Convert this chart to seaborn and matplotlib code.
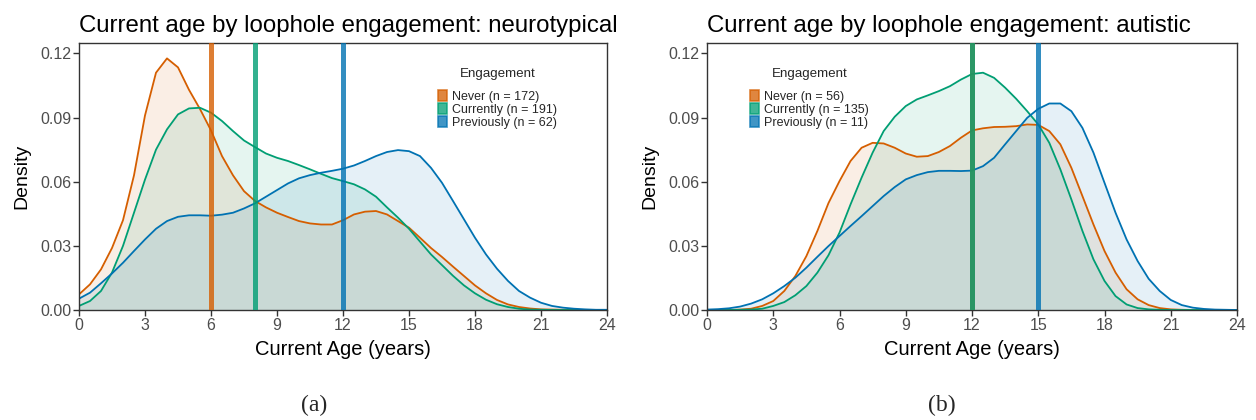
import numpy as np
import pandas as pd
import seaborn as sns
import matplotlib
matplotlib.use("Agg")
import matplotlib.pyplot as plt
from matplotlib.patches import Patch

# ---------------- data ----------------
age = [i * 0.5 for i in range(49)]  # 0 .. 24 years, 0.5 step grid

groups = ["Never", "Currently", "Previously"]
colors = ["#D55E00", "#009E73", "#0072B2"]

# Neurotypical panel densities
nt_never = [0.0073, 0.012, 0.019, 0.029, 0.042, 0.063, 0.091, 0.111, 0.1177, 0.1135,
            0.103, 0.094, 0.084, 0.072, 0.063, 0.0556, 0.051, 0.048, 0.0455, 0.0435,
            0.0416, 0.0405, 0.040, 0.040, 0.042, 0.0447, 0.046, 0.0463, 0.0447, 0.0416,
            0.0385, 0.0338, 0.029, 0.0248, 0.0203, 0.0159, 0.0115, 0.0078, 0.0047, 0.0026,
            0.0014, 0.0007, 0.0003, 0.0002, 0.0001, 0.0001, 0.0, 0.0, 0.0]
nt_curr = [0.0019, 0.0042, 0.0089, 0.0175, 0.030, 0.0455, 0.061, 0.075, 0.0845, 0.0915,
           0.0943, 0.0946, 0.0923, 0.0884, 0.0837, 0.0793, 0.0762, 0.0732, 0.0712, 0.0697,
           0.0678, 0.0658, 0.0637, 0.0617, 0.0603, 0.0588, 0.0564, 0.053, 0.048, 0.0432,
           0.038, 0.032, 0.026, 0.021, 0.016, 0.0115, 0.0078, 0.0048, 0.0027, 0.0014,
           0.0006, 0.0002, 0.0001, 0.0, 0.0, 0.0, 0.0, 0.0, 0.0]
nt_prev = [0.0053, 0.0081, 0.0125, 0.0171, 0.0221, 0.0276, 0.033, 0.038, 0.0416, 0.0436,
           0.0443, 0.0443, 0.0441, 0.0446, 0.0455, 0.0475, 0.0499, 0.053, 0.0561, 0.0592,
           0.0616, 0.0631, 0.0642, 0.0651, 0.0661, 0.0676, 0.0697, 0.072, 0.0739, 0.0748,
           0.0743, 0.072, 0.0665, 0.0595, 0.051, 0.0424, 0.0338, 0.026, 0.0193, 0.0136,
           0.0089, 0.0058, 0.0034, 0.0019, 0.0011, 0.0006, 0.0003, 0.0001, 0.0001]

# Autistic panel densities
au_never = [0.0, 0.0, 0.0, 0.0002, 0.0006, 0.0019, 0.0042, 0.0089, 0.0159, 0.0252,
            0.037, 0.050, 0.0603, 0.0697, 0.0759, 0.0782, 0.0779, 0.0759, 0.0732, 0.0717,
            0.072, 0.0739, 0.0767, 0.0806, 0.0840, 0.085, 0.0856, 0.0857, 0.086, 0.0868,
            0.0866, 0.0837, 0.0775, 0.0665, 0.0533, 0.040, 0.0276, 0.0175, 0.0097, 0.005,
            0.0023, 0.0009, 0.0003, 0.0001, 0.0, 0.0, 0.0, 0.0, 0.0]
au_curr = [0.0, 0.0, 0.0, 0.0001, 0.0002, 0.0006, 0.0019, 0.0037, 0.0069, 0.0112,
           0.0175, 0.0256, 0.0362, 0.0494, 0.0619, 0.0736, 0.0837, 0.0904, 0.0954, 0.0985,
           0.1004, 0.1024, 0.1047, 0.1078, 0.1104, 0.111, 0.1086, 0.104, 0.0988, 0.093,
           0.0868, 0.0782, 0.0658, 0.0517, 0.037, 0.0237, 0.0136, 0.0065, 0.0026, 0.0009,
           0.0003, 0.0001, 0.0, 0.0, 0.0, 0.0, 0.0, 0.0, 0.0]
au_prev = [0.0002, 0.0004, 0.0008, 0.0016, 0.003, 0.005, 0.0078, 0.0112, 0.0151, 0.0198,
           0.0249, 0.0299, 0.0346, 0.0393, 0.0439, 0.0486, 0.0533, 0.0575, 0.0611, 0.0631,
           0.0645, 0.0651, 0.0651, 0.065, 0.0652, 0.0673, 0.0712, 0.0775, 0.0837, 0.0899,
           0.0941, 0.0966, 0.0966, 0.093, 0.0852, 0.0736, 0.0595, 0.0455, 0.033, 0.0229,
           0.0146, 0.0089, 0.0047, 0.0023, 0.0011, 0.0005, 0.0002, 0.0001, 0.0]

# medians (vertical lines)
nt_medians = [6, 8, 12]
au_medians = [12, 12, 15]

nt_counts = [172, 191, 62]
au_counts = [56, 135, 11]

titles = ["Current age by loophole engagement: neurotypical",
          "Current age by loophole engagement: autistic"]
captions = ["(a)", "(b)"]
xticks = [0, 3, 6, 9, 12, 15, 18, 21, 24]
yticks = [0.00, 0.03, 0.06, 0.09, 0.12]

# ---------------- plotting ----------------
sns.set_theme(style="white")
plt.rcParams["font.family"] = ["Liberation Sans", "DejaVu Sans"]

fig = plt.figure(figsize=(12.56, 4.2), dpi=100)
ax1 = fig.add_axes([79 / 1256, 110 / 420, 528 / 1256, 267 / 420])
ax2 = fig.add_axes([707 / 1256, 110 / 420, 530 / 1256, 267 / 420])

panels = [
    (ax1, [nt_never, nt_curr, nt_prev], nt_medians, nt_counts, (0.68, 0.905)),
    (ax2, [au_never, au_curr, au_prev], au_medians, au_counts, (0.081, 0.905)),
]

for i, (ax, dens, meds, counts, lpos) in enumerate(panels):
    labels = [f"{g} (n = {n})" for g, n in zip(groups, counts)]
    df = pd.DataFrame({
        "age": np.concatenate([age] * 3),
        "density": np.concatenate(dens),
        "Engagement": np.repeat(labels, len(age)),
    })
    for lab, col in zip(labels, colors):
        sub = df[df["Engagement"] == lab]
        ax.fill_between(sub["age"], sub["density"], color=col, alpha=0.1, lw=0, zorder=1)
    sns.lineplot(data=df, x="age", y="density", hue="Engagement",
                 palette=dict(zip(labels, colors)), estimator=None, sort=False,
                 linewidth=1.3, legend=False, ax=ax, zorder=2)
    for m, col in zip(meds, colors):
        ax.axvline(m, color=col, alpha=0.8, lw=3.6, zorder=3)

    ax.set_xlim(0, 24)
    ax.set_ylim(0, 0.1249)
    ax.set_xticks(xticks)
    ax.set_yticks(yticks)
    ax.set_xticklabels([str(t) for t in xticks])
    ax.set_yticklabels([f"{t:.2f}" for t in yticks])
    ax.tick_params(axis="both", which="both", direction="out", length=4, width=1,
                   color="#333333", labelcolor="#4D4D4D", labelsize=11.5, pad=1.5,
                   bottom=True, left=True)
    for sp in ax.spines.values():
        sp.set_color("#333333")
        sp.set_linewidth(1.0)
    ax.set_xlabel("Current Age (years)", fontsize=14.5, color="black", labelpad=5)
    ax.set_ylabel("Density", fontsize=14, color="black", labelpad=7)
    ax.set_title(titles[i], loc="left", fontsize=17.3, color="black", pad=8)

    handles = [Patch(facecolor=col, edgecolor=col, alpha=0.75, lw=1.2) for col in colors]
    leg = ax.legend(handles, labels, title="Engagement", loc="upper left",
                    bbox_to_anchor=lpos, frameon=False, fontsize=9.0,
                    title_fontsize=9.6, handlelength=0.75, handleheight=1.0,
                    handletextpad=0.4, labelspacing=0.0, borderpad=0.0,
                    borderaxespad=0.0)
    leg._legend_box.sep = 7

fig.text(314 / 1256, 1 - 405 / 420, captions[0], ha="center", va="center",
         fontsize=17, family=["Liberation Serif", "DejaVu Serif"])
fig.text(942 / 1256, 1 - 405 / 420, captions[1], ha="center", va="center",
         fontsize=17, family=["Liberation Serif", "DejaVu Serif"])

fig.savefig("out.png", dpi=100)
